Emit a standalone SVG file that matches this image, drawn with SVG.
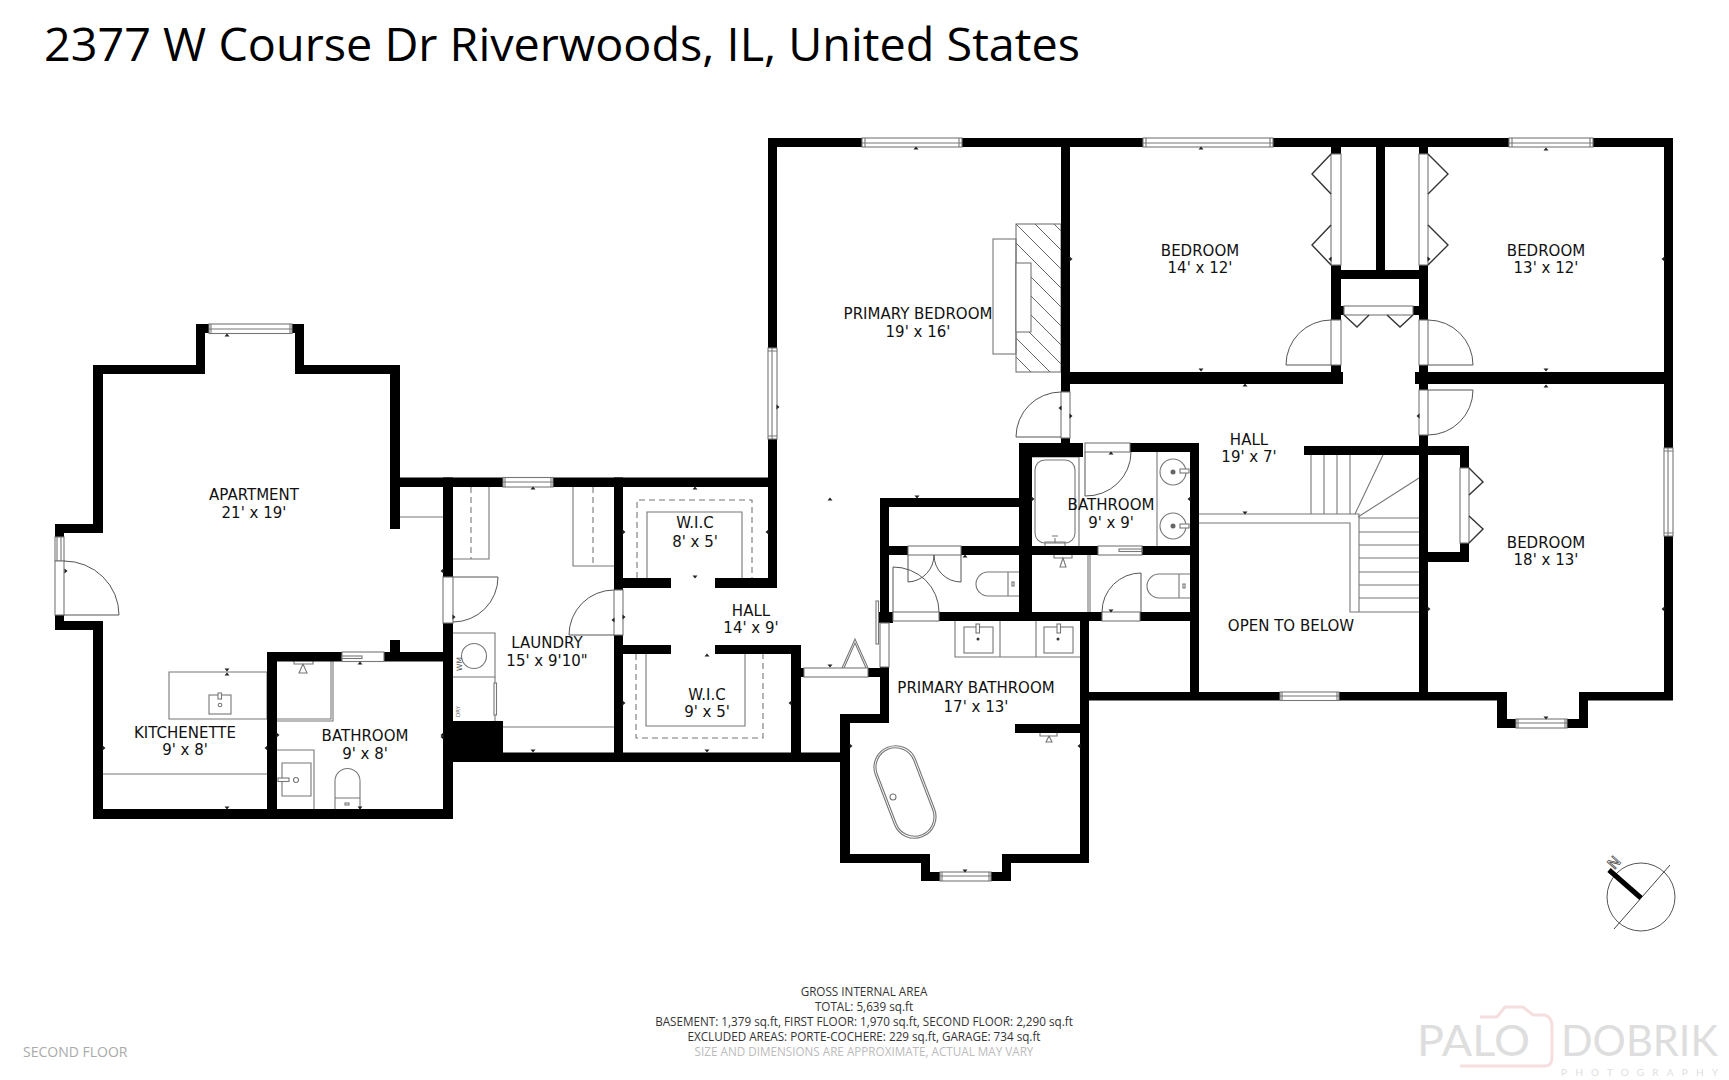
<svg xmlns="http://www.w3.org/2000/svg" width="1729" height="1080" viewBox="0 0 1729 1080">
<style>
.w{fill:#000}
.f{fill:none;stroke:#777;stroke-width:1.1}
.fw{fill:#fff;stroke:#777;stroke-width:1.1}
.dash{fill:none;stroke:#777;stroke-width:1.1;stroke-dasharray:6 4}
.d{fill:none;stroke:#555;stroke-width:1}
.b{fill:none;stroke:#333;stroke-width:1.4}
.t{fill:#222}
.l{font-family:"DejaVu Sans",sans-serif;font-size:15px;fill:#111;text-anchor:middle}
.g{font-family:"Open Sans",sans-serif;font-size:11.7px;fill:#333;text-anchor:middle}
.logo{font-family:"Lato",sans-serif;fill:#dedede}
</style>
<defs>
<pattern id="hatch" width="19" height="19" patternUnits="userSpaceOnUse" patternTransform="translate(1016 224)">
<path d="M-5 -5L24 24M-5 14L5 24M14 -5L24 5" stroke="#666" stroke-width="1"/>
</pattern>
<path id="tU" d="M-2.5 1.5L0 -1.5L2.5 1.5Z"/>
<path id="tD" d="M-2.5 -1.5L0 1.5L2.5 -1.5Z"/>
<path id="tL" d="M1.5 -2.5L-1.5 0L1.5 2.5Z"/>
<path id="tR" d="M-1.5 -2.5L1.5 0L-1.5 2.5Z"/>
</defs>
<rect width="1729" height="1080" fill="#fff"/>
<text x="44" y="61" font-family="'Open Sans',sans-serif" font-size="45" fill="#000" textLength="1036" lengthAdjust="spacingAndGlyphs">2377 W Course Dr Riverwoods, IL, United States</text>

<g id="fixtures">
<!-- apartment -->
<path class="f" d="M400 517H443"/>
<path class="f" d="M169 672H267V719H169Z"/>
<rect class="f" x="209" y="695" width="22" height="19"/>
<rect class="fw" x="218" y="693" width="3.500" height="6"/>
<circle class="f" cx="220" cy="705" r="1.800"/>
<path class="f" d="M103 774H267"/>
<path class="f" d="M267 719H331V661M267 721H333V661"/>
<path class="f" d="M294 661V664H313V661M303 664L299 673H307Z"/>
<path class="f" d="M277 750H314V809M282 763H311V796H282Z"/>
<rect class="fw" x="278" y="778" width="11" height="3.500"/>
<circle class="f" cx="296" cy="780" r="2.500"/>
<path class="f" d="M335 809V781A12.500 12.500 0 0 1 360 781V809M335 798H360"/>
<rect class="f" x="345" y="803" width="4" height="2"/>
<!-- laundry -->
<path class="f" d="M453 559H489V487M573 487V566H614"/>
<path class="dash" d="M471 487V559M593 487V566"/>
<path class="f" d="M453 633H495V677H453"/>
<circle class="f" cx="474" cy="656" r="12.500"/>
<path class="f" d="M495 677V721"/>
<rect class="fw" x="494" y="683" width="2.500" height="32"/>
<path class="f" d="M503 727H614"/>
<text transform="translate(462 671) rotate(-90)" font-family="'DejaVu Sans',sans-serif" font-size="7.500" fill="#555">WM</text>
<text transform="translate(460 717) rotate(-90)" font-family="'DejaVu Sans',sans-serif" font-size="5.500" fill="#666">DRY</text>
<!-- WIC -->
<path class="f" d="M647 578V512H742V578"/>
<path class="dash" d="M637 578V500H752V578"/>
<path class="f" d="M646 654V726H745V654"/>
<path class="dash" d="M636 654V738H763V654"/>
<!-- triangle -->
<path class="f" d="M842 668L855 639L868 668"/>
<path class="f" d="M844 668L855 643L866 668"/>
<!-- hearth -->
<rect x="1016" y="224" width="45" height="148" fill="url(#hatch)" stroke="#666" stroke-width="1"/>
<rect class="f" x="993" y="239" width="23" height="115"/>
<rect class="fw" x="1016" y="263" width="15" height="69"/>
<!-- bathroom 9x9 -->
<path class="f" d="M1032 457H1079V546"/>
<rect class="f" x="1035" y="460" width="40" height="83" rx="10"/>
<path class="f" d="M1045 546V542H1065V546"/>
<path class="f" d="M1055 543V538M1052 536H1058"/>
<path class="f" d="M1157 452V546"/>
<circle class="f" cx="1173" cy="472" r="13"/>
<circle class="f" cx="1173" cy="526" r="13"/>
<circle cx="1173" cy="472" r="2.500" fill="#666"/>
<circle cx="1173" cy="526" r="2.500" fill="#666"/>
<rect class="fw" x="1180" y="469" width="9" height="4"/>
<rect class="fw" x="1180" y="524" width="9" height="4"/>
<!-- WC right -->
<path class="f" d="M1054 555V558H1072V555M1063 558L1060 567H1066Z"/>
<path class="f" d="M1088 555V612M1090 555V612"/>
<path class="f" d="M1179 574H1159A12 12 0 0 0 1159 598H1179ZM1179 574H1190M1179 598H1190"/>
<rect class="f" x="1183" y="584" width="2" height="4"/>
<!-- WC left -->
<path class="f" d="M1008 572H988A12 12 0 0 0 988 596H1008ZM1008 572H1019M1008 596H1019"/>
<rect class="f" x="1012" y="582" width="2" height="4"/>
<!-- primary bath -->
<path class="f" d="M955 621V657H1080M1000 621V657M1036 621V657"/>
<rect class="f" x="964" y="627" width="29" height="26"/>
<rect class="f" x="1044" y="627" width="29" height="26"/>
<rect class="fw" x="976" y="624" width="3.500" height="9"/>
<rect class="fw" x="1057" y="624" width="3.500" height="9"/>
<circle cx="978" cy="639" r="1.500" fill="#333"/>
<circle cx="1058" cy="639" r="1.500" fill="#333"/>
<g transform="rotate(-21 905 792)">
<rect class="f" x="883.500" y="744" width="43" height="96" rx="21.500"/>
<rect class="f" x="885.500" y="746" width="39" height="92" rx="19.500"/>
</g>
<circle class="f" cx="893" cy="797" r="3"/>
<path class="f" d="M1040 733V736H1057V733M1049 736L1046 742H1052Z"/>
<!-- stairs -->
<path class="f" d="M1311 455V514M1324 455V514M1337 455V514M1350 455V514"/>
<path class="f" d="M1383 455L1355 514M1419 478L1358 517"/>
<path class="f" d="M1199 514H1359V612H1419M1199 523H1350V612H1359"/>
<path class="f" d="M1359 518H1419M1359 532H1419M1359 545H1419M1359 558H1419M1359 572H1419M1359 585H1419M1359 598H1419"/>
</g>

<g id="walls">
<rect class="w" x="196" y="324" width="13" height="9"/>
<rect class="w" x="196" y="324" width="9" height="50"/>
<rect class="w" x="292" y="324" width="12" height="9"/>
<rect class="w" x="768" y="138" width="905" height="9"/>
<rect class="w" x="768" y="138" width="9" height="210"/>
<rect class="w" x="1664" y="138" width="9" height="310"/>
<rect class="w" x="295" y="324" width="9" height="50"/>
<rect class="w" x="295" y="365" width="105" height="9"/>
<rect class="w" x="93" y="365" width="112" height="9"/>
<rect class="w" x="93" y="365" width="10" height="168"/>
<rect class="w" x="55" y="524" width="48" height="9"/>
<rect class="w" x="55" y="524" width="9" height="13"/>
<rect class="w" x="55" y="615" width="9" height="15"/>
<rect class="w" x="55" y="621" width="48" height="9"/>
<rect class="w" x="93" y="621" width="10" height="198"/>
<rect class="w" x="93" y="809" width="360" height="10"/>
<rect class="w" x="390" y="365" width="10" height="164"/>
<rect class="w" x="390" y="640" width="10" height="14"/>
<rect class="w" x="267" y="652" width="75" height="9.500"/>
<rect class="w" x="384" y="652" width="59" height="9.500"/>
<rect class="w" x="267" y="652" width="10" height="167"/>
<rect class="w" x="400" y="477.500" width="377" height="9.500"/>
<rect class="w" x="443" y="477.500" width="10" height="99.500"/>
<rect class="w" x="443" y="623" width="10" height="196"/>
<rect class="w" x="453" y="721" width="50" height="39"/>
<rect class="w" x="453" y="752.500" width="396" height="9.500"/>
<rect class="w" x="614" y="477.500" width="9" height="112.500"/>
<rect class="w" x="614" y="635" width="9" height="127"/>
<rect class="w" x="623" y="578" width="48" height="10"/>
<rect class="w" x="715" y="578" width="62" height="10"/>
<rect class="w" x="768" y="439" width="9" height="149"/>
<rect class="w" x="623" y="645" width="48" height="9"/>
<rect class="w" x="715" y="645" width="86" height="9"/>
<rect class="w" x="791" y="645" width="10" height="117"/>
<rect class="w" x="801" y="668" width="3" height="9"/>
<rect class="w" x="868" y="668" width="21" height="9"/>
<rect class="w" x="880" y="667" width="9" height="56"/>
<rect class="w" x="840" y="714" width="49" height="9"/>
<rect class="w" x="840" y="714" width="10" height="149"/>
<rect class="w" x="840" y="854" width="90" height="9"/>
<rect class="w" x="921" y="854" width="9" height="27"/>
<rect class="w" x="921" y="872" width="19" height="9"/>
<rect class="w" x="991" y="872" width="20" height="9"/>
<rect class="w" x="1002" y="854" width="9" height="27"/>
<rect class="w" x="1002" y="854" width="87" height="9"/>
<rect class="w" x="1080" y="612" width="9" height="251"/>
<rect class="w" x="1015" y="724" width="65" height="9"/>
<rect class="w" x="880" y="498" width="9" height="125"/>
<rect class="w" x="876" y="612" width="17" height="11"/>
<rect class="w" x="880" y="498" width="140" height="9"/>
<rect class="w" x="889" y="546" width="19" height="9"/>
<rect class="w" x="961" y="546" width="58" height="9"/>
<rect class="w" x="1019" y="443" width="13" height="178"/>
<rect class="w" x="1019" y="443" width="64" height="14"/>
<rect class="w" x="1130" y="443" width="69" height="9"/>
<rect class="w" x="1190" y="443" width="9" height="252"/>
<rect class="w" x="1032" y="546" width="66" height="9"/>
<rect class="w" x="1142" y="546" width="48" height="9"/>
<rect class="w" x="939" y="612" width="163" height="9"/>
<rect class="w" x="1140" y="612" width="50" height="9"/>
<rect class="w" x="1089" y="692" width="191" height="8.500"/>
<rect class="w" x="1339" y="692" width="168" height="8.500"/>
<rect class="w" x="1497" y="692" width="10" height="36"/>
<rect class="w" x="1497" y="719" width="19" height="9"/>
<rect class="w" x="1567" y="719" width="21" height="9"/>
<rect class="w" x="1579" y="692" width="9" height="36"/>
<rect class="w" x="1579" y="692" width="94" height="8.500"/>
<rect class="w" x="1664" y="536" width="9" height="164"/>
<rect class="w" x="1419" y="435" width="9" height="265"/>
<rect class="w" x="1304" y="446" width="165" height="9"/>
<rect class="w" x="1460" y="446" width="9" height="22"/>
<rect class="w" x="1460" y="543" width="9" height="19"/>
<rect class="w" x="1419" y="552" width="50" height="10"/>
<rect class="w" x="1061" y="138" width="9" height="254"/>
<rect class="w" x="1061" y="438" width="9" height="6"/>
<rect class="w" x="1061" y="372" width="282" height="12"/>
<rect class="w" x="1415" y="372" width="258" height="12"/>
<rect class="w" x="1331" y="138" width="10" height="16"/>
<rect class="w" x="1419" y="138" width="9" height="16"/>
<rect class="w" x="1331" y="265" width="10" height="55"/>
<rect class="w" x="1419" y="265" width="9" height="55"/>
<rect class="w" x="1331" y="365" width="10" height="8"/>
<rect class="w" x="1419" y="365" width="9" height="25"/>
<rect class="w" x="1376" y="147" width="9" height="125"/>
<rect class="w" x="1341" y="270" width="78" height="9"/>
<rect class="w" x="1341" y="306" width="3" height="9"/>
<rect class="w" x="1413" y="306" width="6" height="9"/>
</g>

<g id="windows-doors">
<!-- windows -->
<g class="f">
<rect class="fw" x="209" y="324" width="83" height="9.500"/><path class="f" d="M211 324V333.500M290 324V333.500M209 329H292"/>
<rect class="fw" x="55" y="537" width="9" height="24"/><path class="f" d="M57 537V561M61 537V561"/>
<rect class="fw" x="342" y="652" width="42" height="9.500"/><rect class="fw" x="342" y="656" width="20" height="2.500"/>
<rect class="fw" x="503" y="477.500" width="50" height="9.500"/><path class="f" d="M505 477.500V487M551 477.500V487M503 482H553"/>
<rect class="fw" x="862" y="138" width="100" height="9"/><path class="f" d="M865 138V147M959 138V147M862 143H962"/>
<rect class="fw" x="1143" y="138" width="130" height="9"/><path class="f" d="M1146 138V147M1270 138V147M1143 143H1273"/>
<rect class="fw" x="1509" y="138" width="84" height="9"/><path class="f" d="M1512 138V147M1590 138V147M1509 143H1593"/>
<rect class="fw" x="768" y="348" width="9" height="91"/><path class="f" d="M768 351H777M768 436H777M772 348V439"/>
<rect class="fw" x="1664" y="448" width="9" height="88"/><path class="f" d="M1664 451H1673M1664 533H1673M1668 448V536"/>
<rect class="fw" x="940" y="872" width="51" height="9"/><path class="f" d="M942 872V881M989 872V881M940 876H991"/>
<rect class="fw" x="1280" y="692" width="59" height="8.500"/><path class="f" d="M1282 692V700.500M1337 692V700.500M1280 696H1339"/>
<rect class="fw" x="1516" y="719" width="51" height="9"/><path class="f" d="M1518 719V728M1565 719V728M1516 723H1567"/>
</g>
<!-- jambs -->
<rect class="fw" x="55" y="561" width="9" height="54"/>
<rect class="fw" x="443" y="577" width="10" height="46"/>
<rect class="fw" x="614" y="590" width="9" height="45"/>
<rect class="fw" x="1061" y="392" width="9" height="46"/>
<rect class="fw" x="1331" y="320" width="10" height="45"/>
<rect class="fw" x="1419" y="320" width="9" height="45"/>
<rect class="fw" x="1419" y="390" width="9" height="45"/>
<rect class="fw" x="1085" y="443" width="45" height="9"/>
<rect class="fw" x="1098" y="546" width="44" height="9"/>
<rect class="f" x="1119" y="549" width="23" height="2.500"/>
<rect class="fw" x="908" y="546" width="53" height="9"/>
<rect class="fw" x="893" y="612" width="46" height="9"/>
<rect class="fw" x="1102" y="612" width="38" height="9"/>
<rect class="fw" x="880" y="623" width="9" height="44"/>
<rect class="fw" x="876" y="601" width="2.500" height="43"/>
<rect class="fw" x="804" y="668" width="64" height="9"/>
<rect class="fw" x="1331" y="154" width="10" height="111"/>
<rect class="fw" x="1419" y="154" width="9" height="111"/>
<rect class="fw" x="1344" y="306" width="69" height="9"/>
<rect class="fw" x="1460" y="468" width="9" height="75"/>
<!-- swings -->
<path class="d" d="M64 615H119A55 54 0 0 0 64 561"/>
<path class="d" d="M453 577H498A45 45 0 0 1 453 622"/>
<path class="d" d="M614 635H569A45 45 0 0 1 614 590"/>
<path class="d" d="M1061 437H1016A45 45 0 0 1 1061 392"/>
<path class="d" d="M1331 365H1286A45 45 0 0 1 1331 320"/>
<path class="d" d="M1428 365H1473A45 45 0 0 0 1428 320"/>
<path class="d" d="M1428 390H1473A45 45 0 0 1 1428 435"/>
<path class="d" d="M1085 452V496A45 44 0 0 0 1131 452"/>
<path class="d" d="M908 555V582A27 27 0 0 0 934 555A27 27 0 0 0 961 582V555"/>
<path class="d" d="M893 612V567A46 45 0 0 1 939 612"/>
<path class="d" d="M1141 612V573A39 39 0 0 0 1102 612"/>
<!-- bifolds -->
<path class="b" d="M1331 154L1312 174L1331 194M1331 225L1312 245L1331 265"/>
<path class="b" d="M1428 154L1448 174L1428 194M1428 225L1448 245L1428 265"/>
<path class="b" d="M1344 315L1357 327L1369 315M1387 315L1400 327L1413 315"/>
<path class="b" d="M1469 468L1483 482L1469 495M1469 516L1483 529L1469 543"/>
</g>

<g id="ticks" class="t">
<use href="#tU" x="227" y="335"/><use href="#tD" x="227" y="670"/><use href="#tU" x="227" y="674"/><use href="#tD" x="227" y="808"/><use href="#tD" x="360" y="808"/><use href="#tU" x="360" y="663"/>
<use href="#tR" x="66" y="571"/><use href="#tR" x="104" y="748"/><use href="#tL" x="266" y="748"/><use href="#tR" x="278" y="735"/><use href="#tL" x="442" y="735"/><use href="#tL" x="442" y="571"/><use href="#tR" x="454" y="617"/><use href="#tL" x="442" y="737"/>
<use href="#tU" x="533" y="488"/><use href="#tU" x="695" y="488"/><use href="#tR" x="624" y="532"/><use href="#tL" x="767" y="532"/><use href="#tD" x="695" y="577"/><use href="#tL" x="613" y="620"/><use href="#tR" x="624" y="617"/><use href="#tU" x="830" y="499"/><use href="#tU" x="707" y="655"/><use href="#tD" x="830" y="666"/><use href="#tR" x="624" y="703"/><use href="#tL" x="790" y="703"/><use href="#tD" x="533" y="751"/><use href="#tD" x="707" y="751"/>
<use href="#tU" x="916" y="148"/><use href="#tU" x="1201" y="148"/><use href="#tR" x="1071" y="259"/><use href="#tD" x="1201" y="370"/><use href="#tU" x="1245" y="385"/><use href="#tR" x="778" y="407"/><use href="#tL" x="1060" y="408"/><use href="#tR" x="1071" y="416"/>
<use href="#tU" x="1546" y="149"/><use href="#tL" x="1663" y="259"/><use href="#tD" x="1546" y="370"/><use href="#tU" x="1546" y="386"/><use href="#tL" x="1418" y="416"/><use href="#tL" x="1330" y="259"/><use href="#tR" x="1429" y="259"/>
<use href="#tD" x="917" y="497"/><use href="#tU" x="1111" y="453"/><use href="#tR" x="1033" y="499"/><use href="#tL" x="1189" y="499"/><use href="#tD" x="1245" y="513"/><use href="#tU" x="965" y="556"/><use href="#tD" x="1111" y="611"/><use href="#tR" x="851" y="746"/><use href="#tL" x="1079" y="746"/><use href="#tD" x="965" y="871"/>
<use href="#tR" x="1429" y="609"/><use href="#tL" x="1663" y="609"/><use href="#tD" x="1546" y="718"/>
</g>

<g id="labels">
<g id="room-apartment"><text class="l" x="254" y="500">APARTMENT</text><text class="l" x="254" y="518">21' x 19'</text></g>
<g id="room-kitchenette"><text class="l" x="185" y="738">KITCHENETTE</text><text class="l" x="185" y="755">9' x 8'</text></g>
<g id="room-bathroom-apt"><text class="l" x="365" y="741">BATHROOM</text><text class="l" x="365" y="759">9' x 8'</text></g>
<g id="room-laundry"><text class="l" x="547" y="648">LAUNDRY</text><text class="l" x="547" y="666">15' x 9'10"</text></g>
<g id="room-wic1"><text class="l" x="695" y="528">W.I.C</text><text class="l" x="695" y="547">8' x 5'</text></g>
<g id="room-wic2"><text class="l" x="707" y="700">W.I.C</text><text class="l" x="707" y="717">9' x 5'</text></g>
<g id="room-hall1"><text class="l" x="751" y="616">HALL</text><text class="l" x="751" y="633">14' x 9'</text></g>
<g id="room-primary-bed"><text class="l" x="918" y="319">PRIMARY BEDROOM</text><text class="l" x="918" y="337">19' x 16'</text></g>
<g id="room-bed1"><text class="l" x="1200" y="256">BEDROOM</text><text class="l" x="1200" y="273">14' x 12'</text></g>
<g id="room-bed2"><text class="l" x="1546" y="256">BEDROOM</text><text class="l" x="1546" y="273">13' x 12'</text></g>
<g id="room-hall2"><text class="l" x="1249" y="445">HALL</text><text class="l" x="1249" y="462">19' x 7'</text></g>
<g id="room-bath2"><text class="l" x="1111" y="510">BATHROOM</text><text class="l" x="1111" y="528">9' x 9'</text></g>
<g id="room-open"><text class="l" x="1291" y="631">OPEN TO BELOW</text></g>
<g id="room-bed3"><text class="l" x="1546" y="548">BEDROOM</text><text class="l" x="1546" y="565">18' x 13'</text></g>
<g id="room-primary-bath"><text class="l" x="976" y="693">PRIMARY BATHROOM</text><text class="l" x="976" y="712">17' x 13'</text></g>
</g>

<g id="compass">
<circle cx="1641" cy="897" r="34" fill="none" stroke="#555" stroke-width="1"/>
<path d="M1614 929L1670 865" stroke="#444" stroke-width="1"/>
<path d="M1609 870L1641 898" stroke="#000" stroke-width="5"/>
<text transform="translate(1618 866) rotate(-48)" font-family="'DejaVu Sans',sans-serif" font-size="15" fill="#fff" stroke="#555" stroke-width="0.8" text-anchor="middle">N</text>
</g>

<g id="footer">
<text class="g" x="864" y="996">GROSS INTERNAL AREA</text>
<text class="g" x="864" y="1011">TOTAL: 5,639 sq.ft</text>
<text class="g" x="864" y="1026">BASEMENT: 1,379 sq.ft, FIRST FLOOR: 1,970 sq.ft, SECOND FLOOR: 2,290 sq.ft</text>
<text class="g" x="864" y="1041">EXCLUDED AREAS: PORTE-COCHERE: 229 sq.ft, GARAGE: 734 sq.ft</text>
<text class="g" x="864" y="1056" style="fill:#bbb">SIZE AND DIMENSIONS ARE APPROXIMATE, ACTUAL MAY VARY</text>
<text x="23" y="1057" font-family="'Open Sans',sans-serif" font-size="14" fill="#aaa">SECOND FLOOR</text>
</g>

<g id="logo">
<path d="M1480 1017H1497L1505 1007H1523L1533 1015H1545Q1552 1017 1552 1027V1057Q1552 1066 1545 1066H1460" fill="none" stroke="#f6dede" stroke-width="3"/>
<text class="logo" x="1417" y="1056" font-size="43" textLength="113" lengthAdjust="spacingAndGlyphs">PALO</text>
<text class="logo" x="1561" y="1056" font-size="43" textLength="157" lengthAdjust="spacingAndGlyphs">DOBRIK</text>
<text class="logo" x="1561" y="1076" font-size="10" textLength="157">PHOTOGRAPHY</text>
</g>
</svg>
